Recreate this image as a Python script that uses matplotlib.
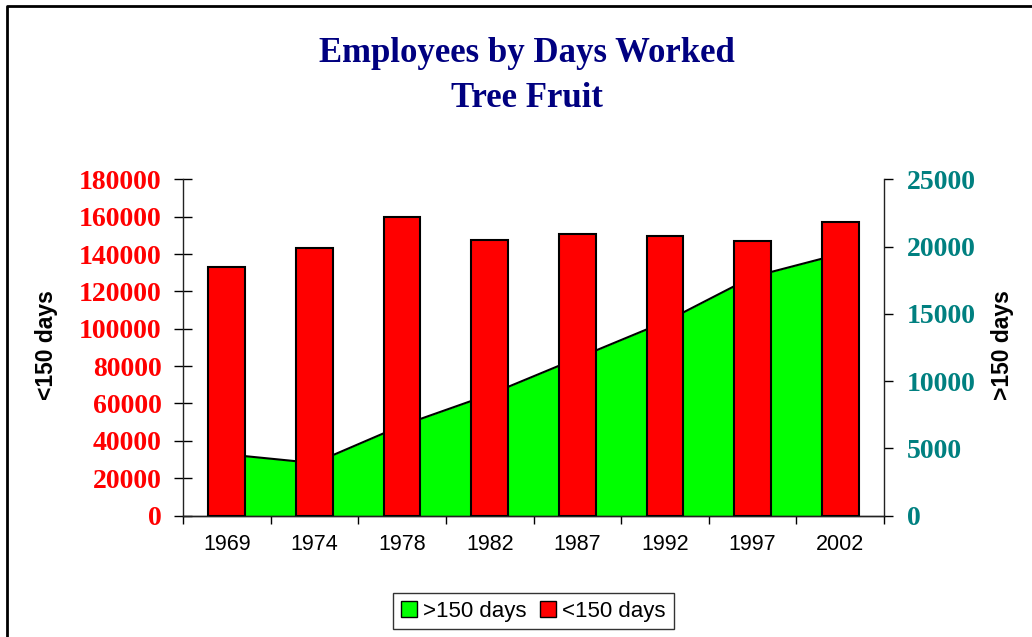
import matplotlib
matplotlib.use("Agg")
import matplotlib.pyplot as plt
from matplotlib.patches import Patch
from matplotlib.lines import Line2D
import numpy as np

years = ['1969', '1974', '1978', '1982', '1987', '1992', '1997', '2002']
under_150 = [133000, 143000, 160000, 147500, 150500, 149500, 147000, 157000]
over_150 = [4550, 3900, 6700, 9000, 11700, 14400, 17750, 19450]

W, H = 1032, 637
fig = plt.figure(figsize=(W / 100, H / 100), dpi=100)
ax = fig.add_axes([183 / W, 1 - 515.5 / H, (884 - 183) / W, (515.5 - 179.3) / H])
ax2 = ax.twinx()

# bars in front of the area
ax.set_zorder(2)
ax2.set_zorder(1)
ax.patch.set_visible(False)

x = np.arange(len(years))
ax.bar(x, under_150, width=0.42, color='#ff0000', edgecolor='black', linewidth=1.5, zorder=3)
ax2.fill_between(x, over_150, 0, color='#00ff00', linewidth=0)
ax2.plot(x, over_150, color='black', lw=1.5)

ax.set_xlim(-0.5, len(years) - 0.5)
ax.set_ylim(0, 180000)
ax2.set_ylim(0, 25000)

serif = 'Liberation Serif'
sans = 'Liberation Sans'

# left axis
ax.set_yticks(np.arange(0, 180001, 20000))
ax.set_yticklabels([str(v) for v in range(0, 180001, 20000)],
                   fontfamily=serif, fontweight='bold', fontsize=20, color='#ff0000')
ax.tick_params(axis='y', direction='inout', length=13, width=1, pad=9)

# right axis
ax2.set_yticks(np.arange(0, 25001, 5000))
ax2.set_yticklabels([str(v) for v in range(0, 25001, 5000)],
                    fontfamily=serif, fontweight='bold', fontsize=20, color='#008080')
ax2.tick_params(axis='y', direction='out', length=6.5, width=1, pad=10)

# x axis: ticks between categories, labels at centres
ax.set_xticks(np.arange(-0.5, len(years), 1.0))
ax.set_xticklabels([])
ax.set_xticks(x, minor=True)
ax.set_xticklabels(years, minor=True, fontfamily=sans, fontsize=15.5)
ax.tick_params(axis='x', which='major', direction='out', length=6, width=1)
ax.tick_params(axis='x', which='minor', length=0, pad=13)

for a in (ax, ax2):
    a.spines['top'].set_visible(False)
    for s in ('left', 'right', 'bottom'):
        a.spines[s].set_color('#222222')
        a.spines[s].set_linewidth(1)
ax.spines['right'].set_visible(False)
ax2.spines['left'].set_visible(False)

fig.text(47 / W, 1 - 345 / H, '<150 days', rotation=90, ha='center', va='center',
         fontfamily=sans, fontweight='bold', fontsize=16.5)
fig.text(1003 / W, 1 - 345 / H, '>150 days', rotation=90, ha='center', va='center',
         fontfamily=sans, fontweight='bold', fontsize=16.5)

# title
navy = '#000080'
fig.text(527 / W, 1 - 61.7 / H, 'Employees by Days Worked', ha='center', va='baseline',
         fontfamily=serif, fontweight='bold', fontsize=25, color=navy)
fig.text(527 / W, 1 - 107.3 / H, 'Tree Fruit', ha='center', va='baseline',
         fontfamily=serif, fontweight='bold', fontsize=25, color=navy)

handles = [Patch(facecolor='#00ff00', edgecolor='black', linewidth=1),
           Patch(facecolor='#ff0000', edgecolor='black', linewidth=1)]
leg = fig.legend(handles, ['>150 days', '<150 days'], loc='center',
                 bbox_to_anchor=(533.5 / W, 1 - 611 / H), ncol=2, frameon=True,
                 fancybox=False, shadow=False, prop={'family': sans, 'size': 16},
                 handlelength=0.7, handleheight=0.7, handletextpad=0.3,
                 columnspacing=0.6, borderpad=0.35, borderaxespad=0)
leg.get_frame().set_edgecolor('black')
leg.get_frame().set_linewidth(1)

# outer border of the chart area (right and bottom cut off)
fig.add_artist(Line2D([7 / W, 7 / W, 1], [0, 1 - 5.5 / H, 1 - 5.5 / H],
                      transform=fig.transFigure, color='black', lw=2))

fig.savefig('out.png', dpi=100)
